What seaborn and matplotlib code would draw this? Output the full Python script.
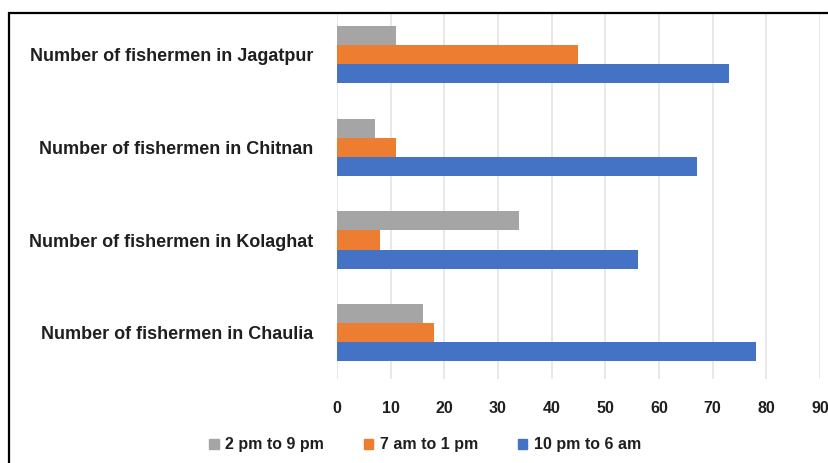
import numpy as np
import pandas as pd
import matplotlib.pyplot as plt
import seaborn as sns
from matplotlib.patches import Rectangle

# data
places = ['Number of fishermen in Jagatpur', 'Number of fishermen in Chitnan',
          'Number of fishermen in Kolaghat', 'Number of fishermen in Chaulia']
shifts = ['2 pm to 9 pm', '7 am to 1 pm', '10 pm to 6 am']
pm2_9 = [11, 7, 34, 16]
am7_1 = [45, 11, 8, 18]
pm10_6 = [73, 67, 56, 78]
colors = ['#A5A5A5', '#ED7D31', '#4472C4']
x_ticks = [0, 10, 20, 30, 40, 50, 60, 70, 80, 90]

df = pd.DataFrame({
    'place': places * 3,
    'shift': np.repeat(shifts, len(places)),
    'count': pm2_9 + am7_1 + pm10_6,
})

sns.set_theme(style='white')
plt.rcParams['font.family'] = ['Liberation Sans', 'DejaVu Sans']

W, H = 829, 463
fig = plt.figure(figsize=(W / 100, H / 100), dpi=100)
ax = fig.add_axes([337 / W, (H - 379) / H, (820 - 337) / W, (379 - 14) / H])

sns.barplot(data=df, y='place', x='count', hue='shift', order=places,
            hue_order=shifts, palette=colors, orient='h', width=0.62,
            gap=0, saturation=1, linewidth=0, ax=ax, legend=False, zorder=2)

ax.set_xlim(0, 90)
ax.set_ylim(3.5, -0.44)
ax.set_xticks(x_ticks)
ax.grid(axis='x', color='#E4E4E4', linewidth=1.2, zorder=0)
ax.set_axisbelow(True)
ax.set_xlabel('')
ax.set_ylabel('')
for s in ax.spines.values():
    s.set_visible(False)
ax.tick_params(axis='x', length=0, pad=16, labelsize=11.5, labelcolor='#1f1f1f')
ax.tick_params(axis='y', length=0, pad=17, labelsize=13, labelcolor='#1f1f1f')
for lbl in ax.get_xticklabels() + ax.get_yticklabels():
    lbl.set_fontweight('bold')

# legend with small square markers
handles = [Rectangle((0, 0), 1, 1, color=c) for c in colors]
fig.legend(handles, shifts, loc='center', bbox_to_anchor=(425 / W, 1 - 445 / H),
           ncol=3, frameon=False, handlelength=0.6, handleheight=0.6,
           handletextpad=0.4, columnspacing=2.5,
           prop={'size': 11.5, 'weight': 'bold'}, labelcolor='#1f1f1f')

# partial outer frame (top and left edges only)
fig.add_artist(Rectangle((9 / W, -0.1), 1.1, 1.1 - 13 / H,
                         transform=fig.transFigure, fill=False,
                         edgecolor='black', linewidth=1.6, zorder=10))

fig.savefig('out.png', dpi=100)
